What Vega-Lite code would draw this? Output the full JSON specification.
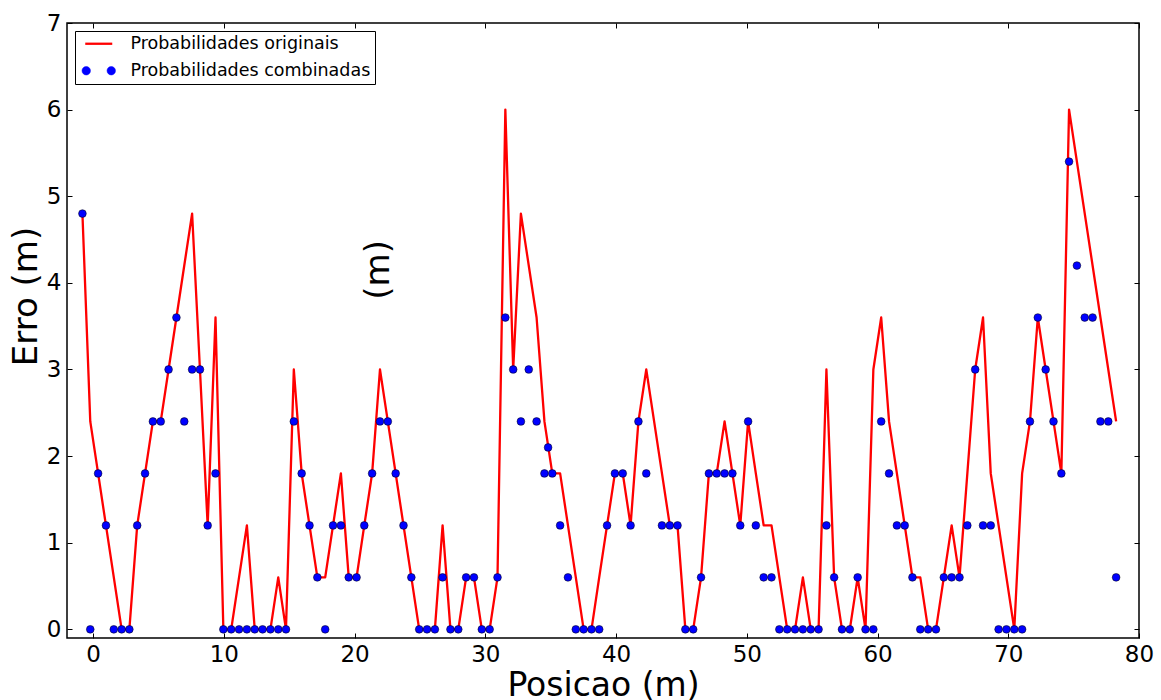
{
  "$schema": "https://vega.github.io/schema/vega-lite/v6.json",
  "autosize": {"type": "none"},
  "padding": {"left": 67, "top": 23, "right": 22, "bottom": 62},
  "width": 1072,
  "height": 615,
  "background": "white",
  "datasets": {
    "orig": [
      {"x": -0.82, "y": 4.8}, {"x": -0.22, "y": 2.4}, {"x": 0.38, "y": 1.8}, {"x": 0.98, "y": 1.2}, {"x": 1.58, "y": 0.6},
      {"x": 2.18, "y": 0}, {"x": 2.77, "y": 0}, {"x": 3.37, "y": 1.2}, {"x": 3.97, "y": 1.8}, {"x": 4.57, "y": 2.4},
      {"x": 5.17, "y": 2.4}, {"x": 5.77, "y": 3.0}, {"x": 6.37, "y": 3.6}, {"x": 6.97, "y": 4.2}, {"x": 7.57, "y": 4.8},
      {"x": 8.17, "y": 3.0}, {"x": 8.76, "y": 1.2}, {"x": 9.36, "y": 3.6}, {"x": 9.96, "y": 0}, {"x": 10.56, "y": 0},
      {"x": 11.16, "y": 0.6}, {"x": 11.76, "y": 1.2}, {"x": 12.36, "y": 0}, {"x": 12.96, "y": 0}, {"x": 13.56, "y": 0},
      {"x": 14.16, "y": 0.6}, {"x": 14.75, "y": 0}, {"x": 15.35, "y": 3.0}, {"x": 15.95, "y": 1.8}, {"x": 16.55, "y": 1.2},
      {"x": 17.15, "y": 0.6}, {"x": 17.75, "y": 0.6}, {"x": 18.35, "y": 1.2}, {"x": 18.95, "y": 1.8}, {"x": 19.55, "y": 0.6},
      {"x": 20.15, "y": 0.6}, {"x": 20.74, "y": 1.2}, {"x": 21.34, "y": 1.8}, {"x": 21.94, "y": 3.0}, {"x": 22.54, "y": 2.4},
      {"x": 23.14, "y": 1.8}, {"x": 23.74, "y": 1.2}, {"x": 24.34, "y": 0.6}, {"x": 24.94, "y": 0}, {"x": 25.54, "y": 0},
      {"x": 26.14, "y": 0}, {"x": 26.73, "y": 1.2}, {"x": 27.33, "y": 0}, {"x": 27.93, "y": 0}, {"x": 28.53, "y": 0.6},
      {"x": 29.13, "y": 0.6}, {"x": 29.73, "y": 0}, {"x": 30.33, "y": 0}, {"x": 30.93, "y": 0.6}, {"x": 31.53, "y": 6.0},
      {"x": 32.13, "y": 3.0}, {"x": 32.72, "y": 4.8}, {"x": 33.32, "y": 4.2}, {"x": 33.92, "y": 3.6}, {"x": 34.52, "y": 2.4},
      {"x": 35.12, "y": 1.8}, {"x": 35.72, "y": 1.8}, {"x": 36.32, "y": 1.2}, {"x": 36.92, "y": 0.6}, {"x": 37.52, "y": 0},
      {"x": 38.12, "y": 0}, {"x": 38.71, "y": 0.6}, {"x": 39.31, "y": 1.2}, {"x": 39.91, "y": 1.8}, {"x": 40.51, "y": 1.8},
      {"x": 41.11, "y": 1.2}, {"x": 41.71, "y": 2.4}, {"x": 42.31, "y": 3.0}, {"x": 42.91, "y": 2.4}, {"x": 43.51, "y": 1.8},
      {"x": 44.11, "y": 1.2}, {"x": 44.7, "y": 1.2}, {"x": 45.3, "y": 0}, {"x": 45.9, "y": 0}, {"x": 46.5, "y": 0.6},
      {"x": 47.1, "y": 1.8}, {"x": 47.7, "y": 1.8}, {"x": 48.3, "y": 2.4}, {"x": 48.9, "y": 1.8}, {"x": 49.5, "y": 1.2},
      {"x": 50.1, "y": 2.4}, {"x": 50.69, "y": 1.8}, {"x": 51.29, "y": 1.2}, {"x": 51.89, "y": 1.2}, {"x": 52.49, "y": 0.6},
      {"x": 53.09, "y": 0}, {"x": 53.69, "y": 0}, {"x": 54.29, "y": 0.6}, {"x": 54.89, "y": 0}, {"x": 55.49, "y": 0},
      {"x": 56.09, "y": 3.0}, {"x": 56.68, "y": 0.6}, {"x": 57.28, "y": 0}, {"x": 57.88, "y": 0}, {"x": 58.48, "y": 0.6},
      {"x": 59.08, "y": 0}, {"x": 59.68, "y": 3.0}, {"x": 60.28, "y": 3.6}, {"x": 60.88, "y": 2.4}, {"x": 61.48, "y": 1.8},
      {"x": 62.08, "y": 1.2}, {"x": 62.67, "y": 0.6}, {"x": 63.27, "y": 0.6}, {"x": 63.87, "y": 0}, {"x": 64.47, "y": 0},
      {"x": 65.07, "y": 0.6}, {"x": 65.67, "y": 1.2}, {"x": 66.27, "y": 0.6}, {"x": 66.87, "y": 1.8}, {"x": 67.47, "y": 3.0},
      {"x": 68.07, "y": 3.6}, {"x": 68.66, "y": 1.8}, {"x": 69.26, "y": 1.2}, {"x": 69.86, "y": 0.6}, {"x": 70.46, "y": 0},
      {"x": 71.06, "y": 1.8}, {"x": 71.66, "y": 2.4}, {"x": 72.26, "y": 3.6}, {"x": 72.86, "y": 3.0}, {"x": 73.46, "y": 2.4},
      {"x": 74.06, "y": 1.8}, {"x": 74.65, "y": 6.0}, {"x": 75.25, "y": 5.4}, {"x": 75.85, "y": 4.8}, {"x": 76.45, "y": 4.2},
      {"x": 77.05, "y": 3.6}, {"x": 77.65, "y": 3.0}, {"x": 78.25, "y": 2.4}
    ],
    "comb": [
      {"x": -0.82, "y": 4.8}, {"x": -0.22, "y": 0}, {"x": 0.38, "y": 1.8}, {"x": 0.98, "y": 1.2}, {"x": 1.58, "y": 0},
      {"x": 2.18, "y": 0}, {"x": 2.77, "y": 0}, {"x": 3.37, "y": 1.2}, {"x": 3.97, "y": 1.8}, {"x": 4.57, "y": 2.4},
      {"x": 5.17, "y": 2.4}, {"x": 5.77, "y": 3.0}, {"x": 6.37, "y": 3.6}, {"x": 6.97, "y": 2.4}, {"x": 7.57, "y": 3.0},
      {"x": 8.17, "y": 3.0}, {"x": 8.76, "y": 1.2}, {"x": 9.36, "y": 1.8}, {"x": 9.96, "y": 0}, {"x": 10.56, "y": 0},
      {"x": 11.16, "y": 0}, {"x": 11.76, "y": 0}, {"x": 12.36, "y": 0}, {"x": 12.96, "y": 0}, {"x": 13.56, "y": 0},
      {"x": 14.16, "y": 0}, {"x": 14.75, "y": 0}, {"x": 15.35, "y": 2.4}, {"x": 15.95, "y": 1.8}, {"x": 16.55, "y": 1.2},
      {"x": 17.15, "y": 0.6}, {"x": 17.75, "y": 0}, {"x": 18.35, "y": 1.2}, {"x": 18.95, "y": 1.2}, {"x": 19.55, "y": 0.6},
      {"x": 20.15, "y": 0.6}, {"x": 20.74, "y": 1.2}, {"x": 21.34, "y": 1.8}, {"x": 21.94, "y": 2.4}, {"x": 22.54, "y": 2.4},
      {"x": 23.14, "y": 1.8}, {"x": 23.74, "y": 1.2}, {"x": 24.34, "y": 0.6}, {"x": 24.94, "y": 0}, {"x": 25.54, "y": 0},
      {"x": 26.14, "y": 0}, {"x": 26.73, "y": 0.6}, {"x": 27.33, "y": 0}, {"x": 27.93, "y": 0}, {"x": 28.53, "y": 0.6},
      {"x": 29.13, "y": 0.6}, {"x": 29.73, "y": 0}, {"x": 30.33, "y": 0}, {"x": 30.93, "y": 0.6}, {"x": 31.53, "y": 3.6},
      {"x": 32.13, "y": 3.0}, {"x": 32.72, "y": 2.4}, {"x": 33.32, "y": 3.0}, {"x": 33.92, "y": 2.4}, {"x": 34.52, "y": 1.8},
      {"x": 34.8, "y": 2.1},
      {"x": 35.12, "y": 1.8}, {"x": 35.72, "y": 1.2}, {"x": 36.32, "y": 0.6}, {"x": 36.92, "y": 0}, {"x": 37.52, "y": 0},
      {"x": 38.12, "y": 0}, {"x": 38.71, "y": 0}, {"x": 39.31, "y": 1.2}, {"x": 39.91, "y": 1.8}, {"x": 40.51, "y": 1.8},
      {"x": 41.11, "y": 1.2}, {"x": 41.71, "y": 2.4}, {"x": 42.31, "y": 1.8}, {"x": 43.51, "y": 1.2},
      {"x": 44.11, "y": 1.2}, {"x": 44.7, "y": 1.2}, {"x": 45.3, "y": 0}, {"x": 45.9, "y": 0}, {"x": 46.5, "y": 0.6},
      {"x": 47.1, "y": 1.8}, {"x": 47.7, "y": 1.8}, {"x": 48.3, "y": 1.8}, {"x": 48.9, "y": 1.8}, {"x": 49.5, "y": 1.2},
      {"x": 50.1, "y": 2.4}, {"x": 50.69, "y": 1.2}, {"x": 51.29, "y": 0.6}, {"x": 51.89, "y": 0.6}, {"x": 52.49, "y": 0},
      {"x": 53.09, "y": 0}, {"x": 53.69, "y": 0}, {"x": 54.29, "y": 0}, {"x": 54.89, "y": 0}, {"x": 55.49, "y": 0},
      {"x": 56.09, "y": 1.2}, {"x": 56.68, "y": 0.6}, {"x": 57.28, "y": 0}, {"x": 57.88, "y": 0}, {"x": 58.48, "y": 0.6},
      {"x": 59.08, "y": 0}, {"x": 59.68, "y": 0}, {"x": 60.28, "y": 2.4}, {"x": 60.88, "y": 1.8}, {"x": 61.48, "y": 1.2},
      {"x": 62.08, "y": 1.2}, {"x": 62.67, "y": 0.6}, {"x": 63.27, "y": 0}, {"x": 63.87, "y": 0}, {"x": 64.47, "y": 0},
      {"x": 65.07, "y": 0.6}, {"x": 65.67, "y": 0.6}, {"x": 66.27, "y": 0.6}, {"x": 66.87, "y": 1.2}, {"x": 67.47, "y": 3.0},
      {"x": 68.07, "y": 1.2}, {"x": 68.66, "y": 1.2}, {"x": 69.26, "y": 0}, {"x": 69.86, "y": 0}, {"x": 70.46, "y": 0},
      {"x": 71.06, "y": 0}, {"x": 71.66, "y": 2.4}, {"x": 72.26, "y": 3.6}, {"x": 72.86, "y": 3.0}, {"x": 73.46, "y": 2.4},
      {"x": 74.06, "y": 1.8}, {"x": 74.65, "y": 5.4}, {"x": 75.25, "y": 4.2}, {"x": 75.85, "y": 3.6}, {"x": 76.45, "y": 3.6},
      {"x": 77.05, "y": 2.4}, {"x": 77.65, "y": 2.4}, {"x": 78.25, "y": 0.6}
    ],
    "note": [{"x": 21.9, "y": 4.15, "t": "(m)"}]
  },
  "layer": [
    {
      "data": {"name": "orig"},
      "mark": {"type": "line", "strokeWidth": 2.3, "strokeJoin": "round"},
      "encoding": {
        "x": {"field": "x", "type": "quantitative",
          "scale": {"domain": [-2, 80], "nice": false, "zero": false},
          "axis": {"orient": "bottom", "values": [0, 10, 20, 30, 40, 50, 60, 70, 80], "format": "d",
            "domain": false, "grid": false, "tickSize": -5, "tickColor": "black", "tickWidth": 1,
            "labelFontSize": 23, "labelColor": "black", "labelPadding": 10, "labelFlush": false,
            "title": "Posicao (m)", "titleFontSize": 33, "titleFontWeight": "normal", "titleColor": "black", "titlePadding": 3}},
        "y": {"field": "y", "type": "quantitative",
          "scale": {"domain": [-0.1, 7], "nice": false, "zero": false},
          "axis": {"orient": "left", "values": [0, 1, 2, 3, 4, 5, 6, 7], "format": "d",
            "domain": false, "grid": false, "tickSize": -5, "tickColor": "black", "tickWidth": 1,
            "labelFontSize": 23, "labelColor": "black", "labelPadding": 11, "labelFlush": false,
            "title": "Erro (m)", "titleFontSize": 34, "titleFontWeight": "normal", "titleColor": "black", "titlePadding": 3, "titleY": 273}},
        "color": {"datum": "Probabilidades originais", "type": "nominal",
          "scale": {"domain": ["Probabilidades originais", "Probabilidades combinadas"], "range": ["#ff0000", "#0000ff"]},
          "legend": {"title": null, "orient": "top-left", "offset": 8, "fillColor": "white", "strokeColor": "black",
            "padding": 4, "rowPadding": 8, "symbolSize": 324, "symbolOffset": 11, "labelOffset": 23,
            "labelFontSize": 17.5, "labelColor": "black", "labelLimit": 400, "cornerRadius": 0,
            "encode": {"symbols": {"update": {
              "shape": {"signal": "datum.value === 'Probabilidades originais' ? 'M-1.5,0L1.5,0' : 'M-1.86,0a0.47,0.47 0 1,0 0.94,0a0.47,0.47 0 1,0 -0.94,0M0.92,0a0.47,0.47 0 1,0 0.94,0a0.47,0.47 0 1,0 -0.94,0'"},
              "fill": {"signal": "datum.value === 'Probabilidades originais' ? 'transparent' : '#0000ff'"},
              "stroke": {"signal": "datum.value === 'Probabilidades originais' ? '#ff0000' : 'black'"},
              "strokeWidth": {"signal": "datum.value === 'Probabilidades originais' ? 2.3 : 0.5"}
            }}}}}
      }
    },
    {
      "data": {"name": "comb"},
      "mark": {"type": "point", "filled": true, "size": 60, "opacity": 1, "stroke": "black", "strokeWidth": 0.5},
      "encoding": {
        "x": {"field": "x", "type": "quantitative",
          "axis": {"orient": "top", "values": [0, 10, 20, 30, 40, 50, 60, 70, 80], "labels": false, "title": null,
            "domain": false, "grid": false, "tickSize": -5, "tickColor": "black", "tickWidth": 1}},
        "y": {"field": "y", "type": "quantitative",
          "axis": {"orient": "right", "values": [0, 1, 2, 3, 4, 5, 6, 7], "labels": false, "title": null,
            "domain": false, "grid": false, "tickSize": -5, "tickColor": "black", "tickWidth": 1}},
        "color": {"datum": "Probabilidades combinadas", "type": "nominal"}
      }
    },
    {
      "data": {"name": "note"},
      "mark": {"type": "text", "angle": 270, "fontSize": 34, "color": "black", "align": "center", "baseline": "middle"},
      "encoding": {
        "x": {"field": "x", "type": "quantitative", "axis": null},
        "y": {"field": "y", "type": "quantitative", "axis": null},
        "text": {"field": "t"}
      }
    }
  ],
  "resolve": {"axis": {"x": "independent", "y": "independent"}},
  "config": {
    "font": "DejaVu Sans",
    "view": {"stroke": "black", "strokeWidth": 1.5}
  }
}
